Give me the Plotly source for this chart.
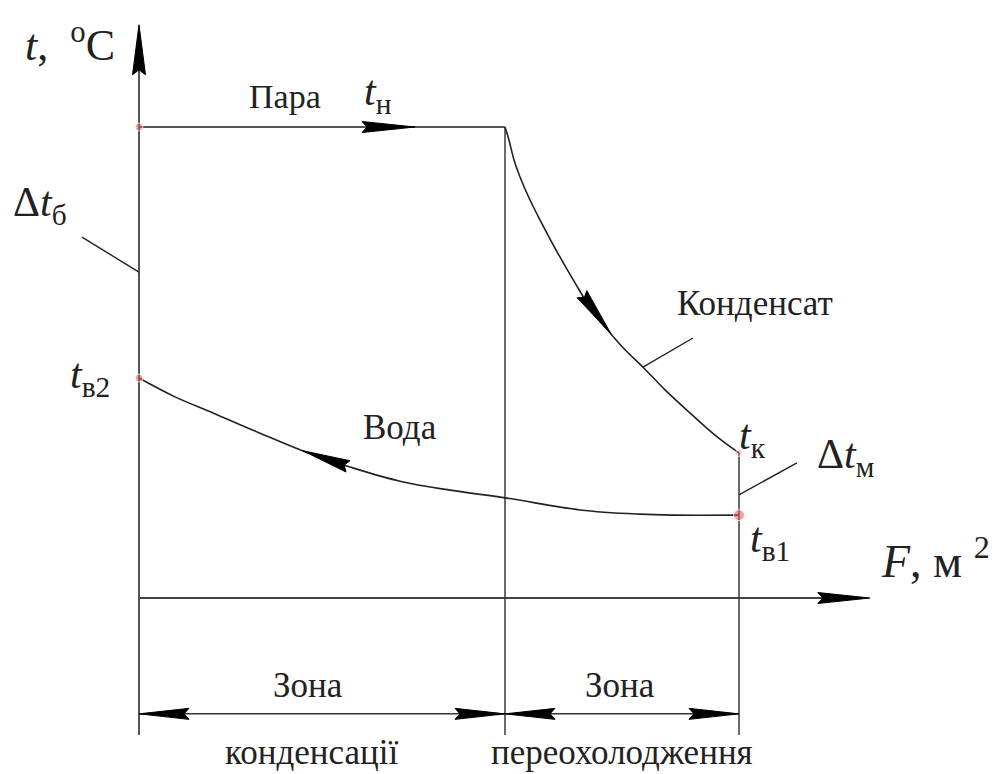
import numpy as np
import plotly.graph_objects as go

# ---------------- data (F in arbitrary units, t in arbitrary units) ----------------
F_cond = 6.1      # end of condensation zone
F_total = 10.0    # end of subcooling zone
t_n = 100.0       # steam saturation temperature
t_v2 = 46.7       # water outlet
t_k = 30.8        # condensate outlet
t_v1 = 17.6       # water inlet

# condensate cooling curve
cond_F = [6.10, 6.167, 6.25, 6.35, 6.517, 6.683, 6.933, 7.267, 7.567, 7.85, 8.10, 8.40, 8.767, 9.183, 9.60, 10.0]
cond_t = [100.0, 97.2, 93.0, 89.4, 84.5, 80.3, 74.3, 66.9, 60.7, 56.3, 52.7, 49.0, 44.2, 39.3, 34.6, 30.8]

# water heating curve
water_F = [0.0, 0.60, 1.233, 2.017, 2.90, 3.517, 4.35, 5.183, 6.133, 7.35, 8.35, 8.90, 10.0]
water_t = [46.7, 42.7, 39.3, 35.0, 30.4, 27.8, 24.8, 22.9, 21.2, 18.7, 17.8, 17.6, 17.6]

# axes / helper levels
F_axis_end = 12.18
t_axis_end = 121.7
t_bottom = -29.1
t_dim = -24.6

# ---------------- layout ranges ----------------
W, H = 1000, 766
xr = [-131 / 60, (W - 131) / 60]
yr = [-(H - 590) / 4.71, 590 / 4.71]
sx = W / (xr[1] - xr[0])
sy = H / (yr[1] - yr[0])


def to_px(F, t):
    return np.array([(F - xr[0]) * sx, (yr[1] - t) * sy])


def to_data(p):
    return p[0] / sx + xr[0], yr[1] - p[1] / sy


def arrow_poly(tip, base, width=12, notch=4):
    tp = to_px(*tip)
    bp = to_px(*base)
    d = tp - bp
    d = d / np.linalg.norm(d)
    n = np.array([-d[1], d[0]])
    pts = [tp, bp + n * width / 2, bp + d * notch, bp - n * width / 2, tp]
    xs, ys = zip(*[to_data(p) for p in pts])
    return list(xs), list(ys)


LINE = "#3a3a3a"
TXT = "#222222"
fig = go.Figure()


def seg(x, y, color=LINE, width=1.6, shape="linear"):
    fig.add_trace(go.Scatter(x=x, y=y, mode="lines", line=dict(color=color, width=width, shape=shape),
                             hoverinfo="skip", showlegend=False))


def head(tip, base, width=12, notch=4):
    xs, ys = arrow_poly(tip, base, width, notch)
    fig.add_trace(go.Scatter(x=xs, y=ys, mode="lines", fill="toself", fillcolor="black",
                             line=dict(color="black", width=1), hoverinfo="skip", showlegend=False))


# axes
seg([0, 0], [t_bottom, t_axis_end - 5], color="#555555", width=2)
seg([0, F_axis_end - 0.5], [0, 0], color="#444444", width=1.8)
head((0, t_axis_end), (0, t_axis_end - 50 / sy), width=13, notch=5)
head((F_axis_end, 0), (F_axis_end - 52 / sx, 0), width=11, notch=5)

# zone borders
seg([F_cond, F_cond], [t_bottom, t_n], width=1.5)
seg([F_total, F_total], [t_bottom, t_k], width=1.5)

# steam line
seg([0, F_cond], [t_n, t_n], color="#555555", width=2)
head((4.6, t_n), (4.6 - 53 / sx, t_n), width=11, notch=5)

# condensate curve
seg(cond_F, cond_t, color="#222222", width=1.6, shape="spline")
cf_tip, cf_base = 7.867, 7.383
head((cf_tip, float(np.interp(cf_tip, cond_F, cond_t))),
     (cf_base, float(np.interp(cf_base, cond_F, cond_t))), width=12, notch=4)

# water curve
seg(water_F, water_t, color="#222222", width=1.6, shape="spline")
wf_tip, wf_base = 2.733, 3.483
head((wf_tip, float(np.interp(wf_tip, water_F, water_t))),
     (wf_base, float(np.interp(wf_base, water_F, water_t))), width=12, notch=4)

# dimension line
seg([0, F_total], [t_dim, t_dim], color="#333333", width=1.5)
dim_len = 50 / sx
head((0, t_dim), (dim_len, t_dim), width=11, notch=5)
head((F_cond, t_dim), (F_cond - dim_len, t_dim), width=11, notch=5)
head((F_cond, t_dim), (F_cond + dim_len, t_dim), width=11, notch=5)
head((F_total, t_dim), (F_total - dim_len, t_dim), width=11, notch=5)

# leader lines
seg([-0.95, 0], [76.6, 69.2], color="#222222", width=1.4)
seg([8.40, 9.233], [49.0, 55.2], color="#222222", width=1.4)
seg([F_total, 10.967], [21.9, 28.7], color="#222222", width=1.4)

# key points
fig.add_trace(go.Scatter(x=[0, 0, F_total, F_total], y=[t_n, t_v2, t_k, t_v1], mode="markers",
                         marker=dict(color=["rgba(235,90,90,0.75)", "rgba(235,90,90,0.75)",
                                            "rgba(240,130,130,0.6)", "rgba(235,90,90,0.8)"],
                                     size=[8, 8, 7, 11]),
                         hoverinfo="skip", showlegend=False))

FONT = "Liberation Serif, Times New Roman, serif"


def label(x, y, text, size=30):
    fig.add_annotation(x=x, y=y, text=text, showarrow=False, xanchor="center", yanchor="middle",
                       font=dict(family=FONT, size=size, color=TXT))


label(-1.15, 118.0, "<i>t</i>,  <sup>o</sup>C", 44)
label(2.433, 106.4, "Пара", 34)
label(3.983, 107.0, "<i>t</i><sub>н</sub>", 42)
label(-1.65, 83.4, "Δ<i>t</i><sub>б</sub>", 42)
label(10.267, 62.6, "Конденсат", 35)
label(10.217, 34.0, "<i>t</i><sub>к</sub>", 42)
label(11.767, 30.0, "Δ<i>t</i><sub>м</sub>", 42)
label(-0.817, 47.0, "<i>t</i><sub>в2</sub>", 42)
label(4.35, 36.1, "Вода", 35)
label(10.517, 12.0, "<i>t</i><sub>в1</sub>", 42)
label(13.267, 8.5, "<i>F</i>, м <sup>2</sup>", 46)
label(2.817, -18.5, "Зона", 35)
label(8.017, -18.5, "Зона", 35)
label(2.883, -32.9, "конденсації", 35)
label(8.05, -32.9, "переохолодження", 35)

fig.update_layout(
    width=W, height=H, autosize=False,
    margin=dict(l=0, r=0, t=0, b=0),
    paper_bgcolor="white", plot_bgcolor="white",
    xaxis=dict(range=xr, visible=False, fixedrange=True),
    yaxis=dict(range=yr, visible=False, fixedrange=True),
    showlegend=False,
)

fig.write_html("out.html")
